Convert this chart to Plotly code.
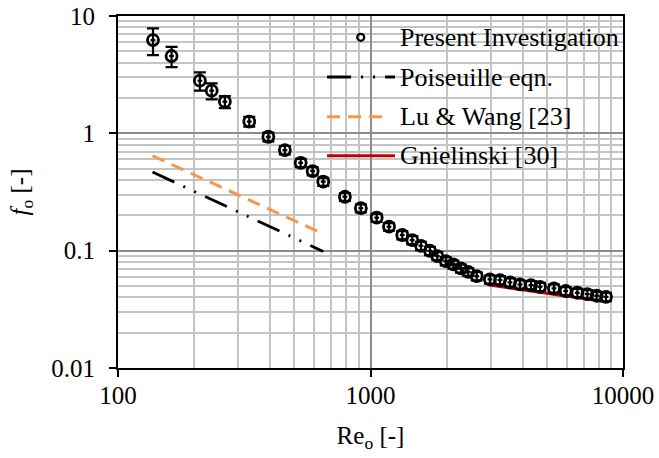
import plotly.graph_objects as go

# ---- data ----
re_exp = [137.6, 163, 211, 235, 265, 331, 394, 458, 529, 590, 650, 792, 916, 1058, 1184,
          1336, 1464, 1585, 1720, 1839, 1986, 2128, 2281, 2438, 2634, 2972, 3257, 3568,
          3908, 4322, 4692, 5330, 5929, 6594, 7224, 7867, 8563]
f_exp = [6.24, 4.56, 2.81, 2.31, 1.86, 1.26, 0.935, 0.72, 0.561, 0.477, 0.387, 0.288, 0.23,
         0.191, 0.16, 0.136, 0.123, 0.110, 0.0998, 0.090, 0.0815, 0.0764, 0.0706, 0.066,
         0.0607, 0.0569, 0.0562, 0.0537, 0.0516, 0.0509, 0.0492, 0.0477, 0.0453, 0.0438,
         0.0427, 0.0413, 0.0404]
f_err = [1.6, 0.9, 0.5, 0.36, 0.22, 0.12, 0.08, 0.06, 0.045, 0.038, 0.03, 0.022, 0.018,
         0.015, 0.012, 0.011, 0.01, 0.009, 0.008, 0.007, 0.0065, 0.006, 0.0055, 0.005,
         0.0048, 0.0045, 0.0045, 0.0043, 0.0041, 0.004, 0.0039, 0.0038, 0.0036, 0.0035,
         0.0034, 0.0033, 0.0032]

re_pois = [137, 650]
f_pois = [0.468, 0.0985]

re_lw = [137, 656]
f_lw = [0.644, 0.1377]

re_gn = [2970, 4000, 5500, 7000, 8560]
f_gn = [0.0509, 0.0463, 0.0419, 0.0389, 0.0367]

x_tickvals = [100, 1000, 10000]
x_ticktext = ["100", "1000", "10000"]
y_tickvals = [0.01, 0.1, 1, 10]
y_ticktext = ["0.01", "0.1", "1", "10"]

legend_names = ["Present Investigation", "Poiseuille eqn.", "Lu &amp; Wang [23]", "Gnielinski [30]"]

FONT = "Liberation Serif"
POIS_DASH = "24px,10px,2px,10px,2px,10px"
LW_DASH = "13px,8px"
ORANGE = "#F79646"
RED = "#C00000"

fig = go.Figure()

fig.add_trace(go.Scatter(
    x=re_pois, y=f_pois, mode="lines",
    line=dict(color="black", width=2.8, dash=POIS_DASH), showlegend=False))
fig.add_trace(go.Scatter(
    x=re_lw, y=f_lw, mode="lines",
    line=dict(color=ORANGE, width=3, dash=LW_DASH), showlegend=False))
fig.add_trace(go.Scatter(
    x=re_gn, y=f_gn, mode="lines", line=dict(color=RED, width=3), showlegend=False))
fig.add_trace(go.Scatter(
    x=re_exp, y=f_exp, mode="markers",
    marker=dict(symbol="circle-open", size=11, color="black", line=dict(width=2.8, color="black")),
    error_y=dict(type="data", array=f_err, color="black", thickness=2.2, width=6),
    error_x=dict(type="percent", value=2.2, color="black", thickness=2.2, width=0),
    showlegend=False))

# ---- custom legend (paper coordinates) ----
leg_y = [0.9395, 0.8267, 0.714, 0.603]
x0, x1 = 0.414, 0.5485
shapes = [
    dict(type="circle", xref="paper", yref="paper", xsizemode="pixel", ysizemode="pixel",
         xanchor=0.4806, yanchor=leg_y[0], x0=-3.5, x1=3.5, y0=-3.5, y1=3.5,
         line=dict(color="black", width=2.2)),
    dict(type="line", xref="paper", yref="paper", x0=x0, x1=x1, y0=leg_y[1], y1=leg_y[1],
         line=dict(color="black", width=2.8, dash=POIS_DASH)),
    dict(type="line", xref="paper", yref="paper", x0=x0, x1=x1 - 0.02, y0=leg_y[2], y1=leg_y[2],
         line=dict(color=ORANGE, width=3, dash=LW_DASH)),
    dict(type="line", xref="paper", yref="paper", x0=x0, x1=x1, y0=leg_y[3], y1=leg_y[3],
         line=dict(color=RED, width=3)),
]
annotations = [
    dict(xref="paper", yref="paper", x=0.555, y=yy, text=t, showarrow=False,
         xanchor="left", yanchor="middle", font=dict(family=FONT, size=26, color="black"))
    for yy, t in zip(leg_y, legend_names)
]

axis_common = dict(
    type="log", showline=True, linecolor="black", linewidth=2, mirror=True,
    ticks="outside", ticklen=7, tickwidth=2, tickcolor="black",
    showgrid=True, gridcolor="#8C8C8C", gridwidth=1.5,
    tickfont=dict(family=FONT, size=25, color="black"),
    minor=dict(dtick="D1", showgrid=True, gridcolor="#C4C4C4", gridwidth=1.5, ticks=""),
    zeroline=False, automargin=False,
)

fig.update_layout(
    width=659, height=458,
    margin=dict(l=118, r=36, t=16, b=90),
    plot_bgcolor="white", paper_bgcolor="white",
    font=dict(family=FONT, size=25, color="black"),
    shapes=shapes, annotations=annotations,
    xaxis=dict(axis_common, range=[2, 4], tickvals=x_tickvals, ticktext=x_ticktext,
               ticklabelstandoff=-3,
               title=dict(text="Re<sub>o</sub> [-]", standoff=18,
                          font=dict(family=FONT, size=25, color="black"))),
    yaxis=dict(axis_common, range=[-2, 1], tickvals=y_tickvals, ticktext=y_ticktext,
               ticklabelstandoff=9,
               title=dict(text="<i>f</i><sub>o</sub> [-]", standoff=16,
                          font=dict(family=FONT, size=25, color="black"))),
)

fig.write_html("out.html")
